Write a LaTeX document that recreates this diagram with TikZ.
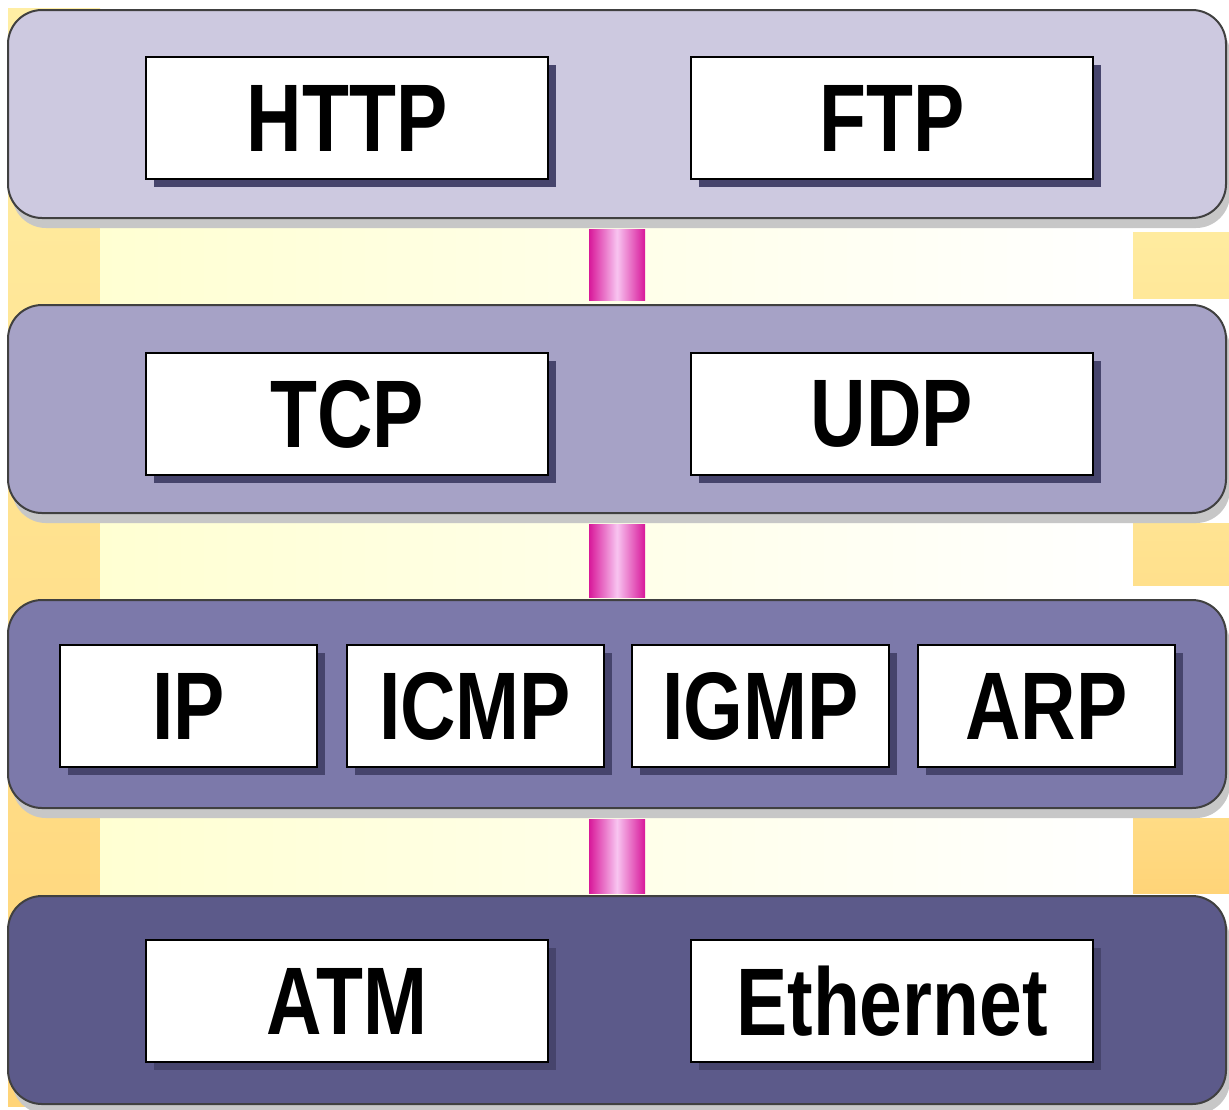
\documentclass[tikz,border=0pt]{standalone}
\usepackage{graphicx}
\usepackage{fontspec}
\setmainfont{Liberation Sans}
\usepackage{tikz}
\usetikzlibrary{calc}
\usetikzlibrary{shadows}
\definecolor{bandA}{HTML}{CDC9E0}
\definecolor{bandB}{HTML}{A6A2C6}
\definecolor{bandC}{HTML}{7C79AA}
\definecolor{bandD}{HTML}{5C5A8A}
\definecolor{boxshade}{HTML}{46446C}
\definecolor{yeltop}{HTML}{FFEEA4}
\definecolor{yelbot}{HTML}{FFD478}
\definecolor{paleyel}{HTML}{FFFFD2}
\definecolor{pipeedge}{HTML}{D8189A}
\definecolor{pipemid}{HTML}{F8C4F0}
\tikzset{
  band/.style={draw=black!75, line width=1pt, rounded corners=17pt, inner sep=0pt,
    minimum width=609pt, minimum height=104pt,
    drop shadow={shadow xshift=2pt, shadow yshift=-5pt, fill=black!22, opacity=1}},
  proto/.style={draw=black, fill=white, line width=1pt, inner sep=0pt,
    minimum width=201pt, minimum height=61pt,
    drop shadow={shadow xshift=4pt, shadow yshift=-4pt, fill=boxshade, opacity=1}},
  small/.style={minimum width=128.5pt},
  pipe/.style={left color=pipeedge, right color=pipeedge, middle color=pipemid}
}
\newcommand{\lbl}[1]{\fontsize{48}{56}\selectfont\bfseries\scalebox{0.8}[1]{#1}}
\begin{document}
\begin{tikzpicture}[x=0.5pt,y=-0.5pt]
\useasboundingbox (0,0) rectangle (1229,1109);
% background
\shade[top color=yeltop, bottom color=yelbot] (8,8) rectangle (100,1106);
\shade[left color=paleyel, right color=white] (100,220) rectangle (1133,900);
\shade[top color=yeltop!90!yelbot, bottom color=yeltop!75!yelbot] (1133,232) rectangle (1229,298);
\shade[top color=yeltop!60!yelbot, bottom color=yeltop!45!yelbot] (1133,523) rectangle (1229,585);
\shade[top color=yeltop!30!yelbot, bottom color=yelbot] (1133,818) rectangle (1229,893);
% layers
\node[band, fill=bandA] (app) at (617,114) {};
\node[band, fill=bandB] (trans) at (617,409) {};
\node[band, fill=bandC] (net) at (617,704) {};
\node[band, fill=bandD] (link) at (617,1000) {};
% pipes
\shade[pipe] ($(app.south)+(-28,10)$) rectangle ($(trans.north)+(28,-4)$);
\shade[pipe] ($(trans.south)+(-28,10)$) rectangle ($(net.north)+(28,-2)$);
\shade[pipe] ($(net.south)+(-28,10)$) rectangle ($(link.north)+(28,-2)$);
% protocols
\node[proto] (http) at (347,118) {\lbl{HTTP}};
\node[proto] (ftp) at (892,118) {\lbl{FTP}};
\node[proto] (tcp) at (347,414) {\lbl{TCP}};
\node[proto] (udp) at (892,414) {\lbl{UDP}};
\node[proto, small] (ip) at (188.5,706) {\lbl{IP}};
\node[proto, small] (icmp) at (475,706) {\lbl{ICMP}};
\node[proto, small] (igmp) at (760.5,706) {\lbl{IGMP}};
\node[proto, small] (arp) at (1046.5,706) {\lbl{ARP}};
\node[proto] (atm) at (347,1001) {\lbl{ATM}};
\node[proto] (eth) at (892,1001) {\lbl{Ethernet}};
\end{tikzpicture}
\end{document}
